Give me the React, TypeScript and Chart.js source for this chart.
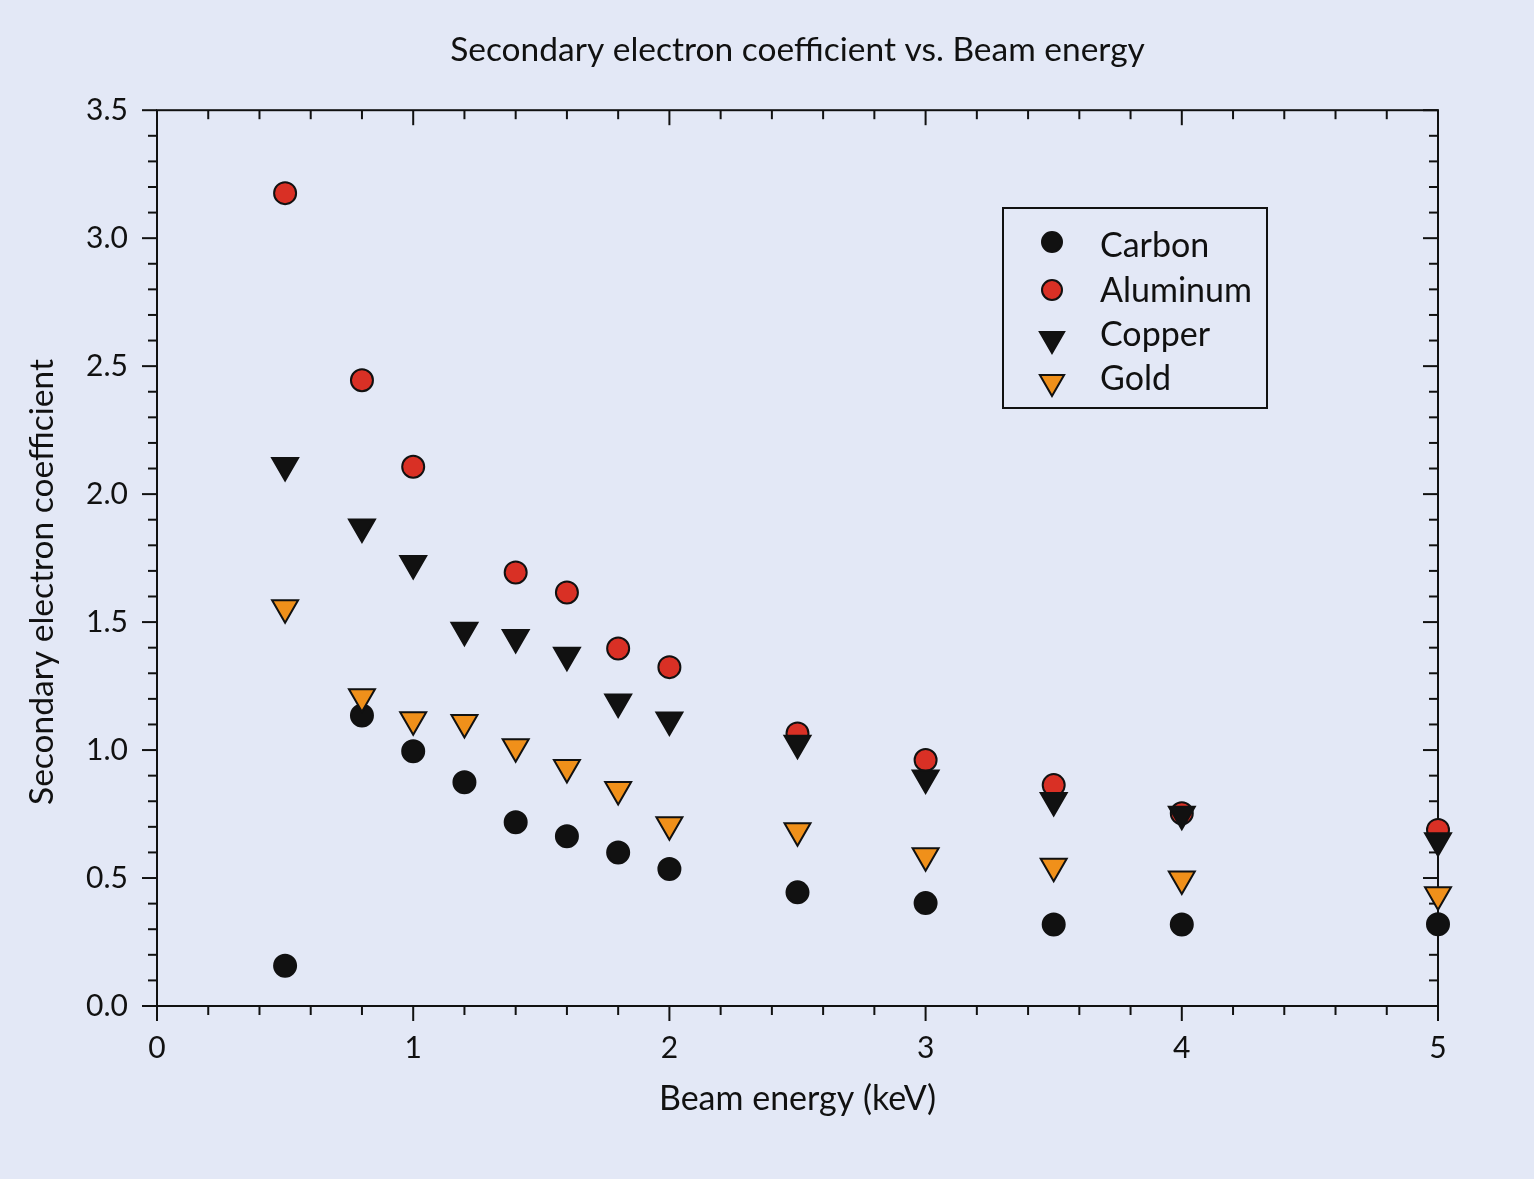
import { useEffect, useRef } from 'react'
import { Chart, ScatterController, PointElement, LinearScale, Title } from 'chart.js'

Chart.register(ScatterController, PointElement, LinearScale, Title);

// beam energy (keV) for each measured point
const energies = [0.5, 0.8, 1.0, 1.2, 1.4, 1.6, 1.8, 2.0, 2.5, 3.0, 3.5, 4.0, 5.0];
const aluminumEnergies = [0.5, 0.8, 1.0, 1.4, 1.6, 1.8, 2.0, 2.5, 3.0, 3.5, 4.0, 5.0];

const carbon = [0.157, 1.135, 0.995, 0.874, 0.718, 0.663, 0.600, 0.535, 0.444, 0.402, 0.318, 0.318, 0.319];
const aluminum = [3.176, 2.445, 2.107, 1.694, 1.616, 1.397, 1.324, 1.065, 0.961, 0.863, 0.753, 0.688];
const copper = [2.112, 1.872, 1.729, 1.468, 1.440, 1.370, 1.188, 1.117, 1.027, 0.891, 0.803, 0.749, 0.646];
const gold = [1.556, 1.208, 1.118, 1.108, 1.013, 0.932, 0.846, 0.708, 0.685, 0.587, 0.546, 0.496, 0.435];

const seriesNames = ['Carbon', 'Aluminum', 'Copper', 'Gold'];

const xTicks = [0, 1, 2, 3, 4, 5];
const yTicks = [0, 0.5, 1.0, 1.5, 2.0, 2.5, 3.0, 3.5];
const xMinorStep = 0.2;
const yMinorStep = 0.1;

const FONT = 'Lato';
const INK = '#111111';
const RED = '#d93025';
const ORANGE = '#f0901a';
const BG = '#e3e8f6';

const pts = (xs: number[], ys: number[]) => ys.map((y, i) => ({ x: xs[i], y }));

function drawCircle(ctx: CanvasRenderingContext2D, x: number, y: number, r: number, fill: string) {
  ctx.beginPath();
  ctx.arc(x, y, r, 0, Math.PI * 2);
  ctx.fillStyle = fill;
  ctx.fill();
  ctx.stroke();
}

function drawDownTriangle(ctx: CanvasRenderingContext2D, x: number, y: number, r: number, fill: string) {
  ctx.beginPath();
  ctx.moveTo(x, y + r);
  ctx.lineTo(x - r * Math.sin(Math.PI / 3), y - r / 2);
  ctx.lineTo(x + r * Math.sin(Math.PI / 3), y - r / 2);
  ctx.closePath();
  ctx.fillStyle = fill;
  ctx.fill();
  ctx.stroke();
}

// frame with minor/major ticks on all four sides (outward on left/bottom, inward on top/right)
const framePlugin = {
  id: 'frame',
  beforeDatasetsDraw(chart: any) {
    const { ctx, chartArea, scales } = chart;
    const { left, right, top, bottom } = chartArea;
    const xs = scales.x, ys = scales.y;
    ctx.save();
    ctx.strokeStyle = INK;
    ctx.lineWidth = 2;
    ctx.strokeRect(left, top, right - left, bottom - top);
    const line = (x1: number, y1: number, x2: number, y2: number) => {
      ctx.beginPath(); ctx.moveTo(x1, y1); ctx.lineTo(x2, y2); ctx.stroke();
    };
    const nx = Math.round((xs.max - xs.min) / xMinorStep);
    for (let i = 0; i <= nx; i++) {
      const v = +(xs.min + i * xMinorStep).toFixed(3);
      const len = xTicks.includes(v) ? 15 : 9;
      const px = xs.getPixelForValue(v);
      line(px, bottom, px, bottom + len);
      line(px, top, px, top + len);
    }
    const ny = Math.round((ys.max - ys.min) / yMinorStep);
    for (let i = 0; i <= ny; i++) {
      const v = +(ys.min + i * yMinorStep).toFixed(3);
      const len = yTicks.includes(v) ? 15 : 9;
      const py = ys.getPixelForValue(v);
      line(left, py, left - len, py);
      line(right, py, right - len, py);
    }
    ctx.restore();
  },
};

// boxed legend inside the plot plus the y-axis title
const legendPlugin = {
  id: 'boxLegend',
  afterDraw(chart: any) {
    const { ctx } = chart;
    ctx.save();
    ctx.strokeStyle = INK;
    ctx.lineWidth = 2;
    ctx.strokeRect(1003, 208, 264, 200);
    const rows = [244, 289, 333, 377];
    drawCircle(ctx, 1052, rows[0] - 2, 10, INK);
    drawCircle(ctx, 1052, rows[1] + 1, 10, RED);
    drawDownTriangle(ctx, 1052, rows[2] + 6, 14, INK);
    drawDownTriangle(ctx, 1052, rows[3] + 5, 14, ORANGE);
    ctx.fillStyle = INK;
    ctx.font = `34px ${FONT}`;
    ctx.textBaseline = 'middle';
    ctx.textAlign = 'left';
    seriesNames.forEach((n, i) => ctx.fillText(n, 1100, rows[i] + 2));

    ctx.translate(42, 582);
    ctx.rotate(-Math.PI / 2);
    ctx.textAlign = 'center';
    ctx.font = `33.5px ${FONT}`;
    ctx.fillText('Secondary electron coefficient', 0, 0);
    ctx.restore();
  },
};

export default function App() {
  const canvasRef = useRef<HTMLCanvasElement>(null);
  const chartRef = useRef<Chart | null>(null);

  useEffect(() => {
    if (!canvasRef.current) return;
    chartRef.current?.destroy();
    const circle = { pointStyle: 'circle', pointRadius: 11, pointBorderWidth: 2, pointBorderColor: INK, clip: false };
    const tri = { pointStyle: 'triangle', pointRadius: 15, pointBorderWidth: 2, pointBorderColor: INK, pointRotation: 180, clip: false };
    chartRef.current = new Chart(canvasRef.current, {
      type: 'scatter',
      data: {
        datasets: [
          { label: seriesNames[0], data: pts(energies, carbon), ...circle, pointBackgroundColor: INK, order: 4 },
          { label: seriesNames[1], data: pts(aluminumEnergies, aluminum), ...circle, pointBackgroundColor: RED, order: 3 },
          { label: seriesNames[2], data: pts(energies, copper), ...tri, pointBackgroundColor: INK, order: 2 },
          { label: seriesNames[3], data: pts(energies, gold), ...tri, pointBackgroundColor: ORANGE, order: 1 },
        ] as any,
      },
      options: {
        animation: false,
        responsive: true,
        maintainAspectRatio: false,
        events: [],
        layout: { padding: { left: 0, right: 96, top: 0, bottom: 0 } },
        plugins: {
          legend: { display: false },
          tooltip: { enabled: false },
          title: {
            display: true,
            text: 'Secondary electron coefficient vs. Beam energy',
            fullSize: false,
            color: INK,
            font: { family: FONT, size: 33.5, weight: 'normal' },
            padding: { top: 30, bottom: 40 },
          },
        },
        scales: {
          x: {
            type: 'linear',
            min: 0,
            max: 5,
            afterBuildTicks: (s: any) => { s.ticks = xTicks.map(v => ({ value: v })); },
            afterFit: (s: any) => { s.height = 173; },
            ticks: { color: INK, font: { family: FONT, size: 30 }, padding: 24, callback: (v: any) => String(v) },
            grid: { display: false, drawTicks: false },
            border: { display: false },
            title: {
              display: true,
              text: 'Beam energy (keV)',
              color: INK,
              font: { family: FONT, size: 34 },
              padding: { top: 0, bottom: 60 },
            },
          },
          y: {
            type: 'linear',
            min: 0,
            max: 3.5,
            afterBuildTicks: (s: any) => { s.ticks = yTicks.map(v => ({ value: v })); },
            afterFit: (s: any) => { s.width = 157; },
            ticks: { color: INK, font: { family: FONT, size: 30 }, padding: 29, callback: (v: any) => Number(v).toFixed(1) },
            grid: { display: false, drawTicks: false },
            border: { display: false },
            title: { display: false },
          },
        },
      },
      plugins: [framePlugin, legendPlugin],
    });
    return () => {
      chartRef.current?.destroy();
      chartRef.current = null;
    };
  }, []);

  return (
    <div style={{ position: 'fixed', left: 0, top: 0, width: 1534, height: 1179, background: BG }}>
      <canvas ref={canvasRef} />
    </div>
  );
}
